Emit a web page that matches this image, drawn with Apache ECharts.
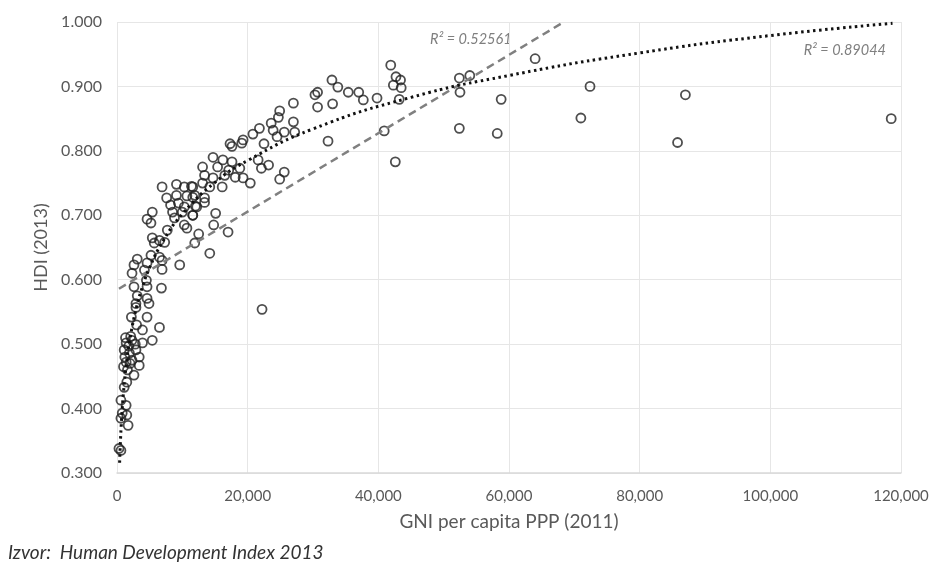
<!DOCTYPE html>
<html>
<head>
<meta charset="utf-8">
<script src="https://cdn.jsdelivr.net/npm/echarts@6/dist/echarts.min.js"></script>
<style>
html,body{margin:0;padding:0;background:#fff;}
#c{width:937px;height:567px;}
</style>
</head>
<body>
<div id="c"></div>
<script>
// Countries: GNI per capita PPP (2011) and HDI (2013)
const gni = [
118500,87000,85800,72400,71000,64000,58800,58200,52400,52500,52400,54000,
41900,42700,43400,42300,43500,43200,40900,42600,39800,37700,37000,35400,33800,32900,30700,30300,30700,33000,32300,27000,27000,27200,
24900,24700,23600,23900,25600,21800,20800,24500,22500,19300,17300,21600,22100,23200,25600,24900,14700,16200,17600,13100,15400,17100,18800,13400,14700,16500,18100,19300,20400,13100,14200,16100,11600,11600,13400,12200,11600,15100,14800,17000,12500,17600,19100,
6900,9100,10300,11400,7600,9100,10700,11900,13400,8200,9400,10300,12000,5400,8500,10000,11600,4600,8800,5200,10300,10700,7700,5400,6500,7300,5700,11900,14200,5200,6500,3100,4600,6900,2600,4200,6900,9600,2300,4500,2600,4600,6800,3100,4600,2900,4900,2900,2200,4600,22200,
3900,6500,5400,3900,2300,1400,1100,1900,2900,3400,2300,1400,3400,2600,1500,1100,600,1400,800,1500,1700,600,300,600,
1200,1800,2000,1600,2800,1000,2100,3000,1300
];
const hdi = [
0.850,0.887,0.813,0.900,0.851,0.943,0.880,0.827,0.835,0.891,0.913,0.917,
0.933,0.915,0.910,0.902,0.898,0.880,0.831,0.783,0.882,0.879,0.891,0.891,0.899,0.910,0.891,0.887,0.868,0.873,0.815,0.874,0.845,0.829,
0.862,0.852,0.843,0.832,0.829,0.835,0.826,0.822,0.811,0.817,0.811,0.786,0.773,0.778,0.767,0.756,0.790,0.786,0.783,0.775,0.775,0.770,0.773,0.762,0.758,0.762,0.759,0.758,0.750,0.750,0.744,0.744,0.744,0.728,0.727,0.713,0.700,0.703,0.685,0.674,0.671,0.807,0.812,
0.744,0.748,0.744,0.745,0.727,0.731,0.730,0.731,0.720,0.716,0.719,0.713,0.714,0.705,0.705,0.705,0.700,0.694,0.696,0.688,0.685,0.680,0.677,0.665,0.661,0.658,0.657,0.657,0.641,0.638,0.635,0.632,0.626,0.630,0.623,0.615,0.616,0.623,0.610,0.599,0.589,0.589,0.587,0.575,0.571,0.563,0.563,0.557,0.542,0.542,0.554,
0.522,0.526,0.506,0.502,0.506,0.502,0.491,0.486,0.491,0.480,0.475,0.472,0.467,0.452,0.441,0.433,0.413,0.405,0.393,0.390,0.374,0.385,0.338,0.335,
0.480,0.497,0.470,0.460,0.500,0.465,0.512,0.530,0.510
];
// Linear trend line (dashed), end points
const linTrendX = [300, 68400];
const linTrendY = [0.586, 1.000];
// Logarithmic trend line (dotted)
const logTrendX = [400,500,700,1000,1500,2000,3000,4000,5000,7000,10000,15000,20000,30000,45000,60000,80000,100000,118700];
const logTrendY = [0.316,0.343,0.383,0.426,0.475,0.509,0.558,0.592,0.619,0.659,0.702,0.751,0.785,0.834,0.883,0.917,0.952,0.979,0.998];
// Axis ticks
const xTicks = [0,20000,40000,60000,80000,100000,120000];
const yTicks = [0.3,0.4,0.5,0.6,0.7,0.8,0.9,1.0];
const r2Linear = 'R² = 0.52561';
const r2Log = 'R² = 0.89044';

const zip = (a,b) => a.map((v,i)=>[v,b[i]]);
const font = 'Lato, "Open Sans", sans-serif';
const chart = echarts.init(document.getElementById('c'), null, {renderer:'canvas'});
chart.setOption({
  animation:false,
  backgroundColor:'#fff',
  grid:{left:117, right:36, top:22, bottom:94, containLabel:false},
  xAxis:{
    type:'value', min:xTicks[0], max:xTicks[xTicks.length-1], interval:xTicks[1]-xTicks[0],
    name:'GNI per capita PPP (2011)', nameLocation:'middle', nameGap:39,
    nameTextStyle:{fontFamily:font, fontSize:19, color:'#595959'},
    axisLine:{show:true, lineStyle:{color:'#d9d9d9', width:1.5}},
    axisTick:{show:false},
    axisLabel:{fontFamily:font, fontSize:15, color:'#595959', margin:16,
      formatter:v=>v.toLocaleString('en-US')},
    splitLine:{show:true, lineStyle:{color:'#e6e6e6', width:1}}
  },
  yAxis:{
    type:'value', min:yTicks[0], max:yTicks[yTicks.length-1], interval:0.1,
    name:'HDI (2013)', nameLocation:'middle', nameGap:50, nameRotate:90,
    nameTextStyle:{fontFamily:font, fontSize:18, color:'#595959'},
    axisLine:{show:false},
    axisTick:{show:false},
    axisLabel:{fontFamily:font, fontSize:16, color:'#595959', margin:15,
      formatter:v=>v.toFixed(3)},
    splitLine:{show:true, lineStyle:{color:'#e6e6e6', width:1}}
  },
  series:[
    {
      type:'scatter', data:zip(gni,hdi), symbol:'circle', symbolSize:9,
      itemStyle:{color:'rgba(0,0,0,0)', borderColor:'#222', borderWidth:1.8},
      z:2
    },
    {
      type:'line', data:zip(linTrendX,linTrendY), showSymbol:false, symbol:'none',
      lineStyle:{color:'#808080', width:2.5, type:[8,5]}, z:3
    },
    {
      type:'line', data:zip(logTrendX,logTrendY), showSymbol:false, symbol:'none', smooth:true,
      lineStyle:{color:'#111', width:3, type:[2.5,3.5]}, z:4
    }
  ],
  graphic:[
    {type:'text', x:430, y:39, style:{text:r2Linear, fontFamily:font, fontStyle:'italic', fontSize:14.5, fill:'#7f7f7f', textVerticalAlign:'middle'}},
    {type:'text', x:886, y:50, style:{text:r2Log, fontFamily:font, fontStyle:'italic', fontSize:14.5, fill:'#7f7f7f', textAlign:'right', textVerticalAlign:'middle'}},
    {type:'text', x:8, y:553, style:{text:'Izvor:  Human Development Index 2013', fontFamily:font, fontStyle:'italic', fontSize:19, fill:'#333', textVerticalAlign:'middle'}}
  ]
});
</script>
</body>
</html>
